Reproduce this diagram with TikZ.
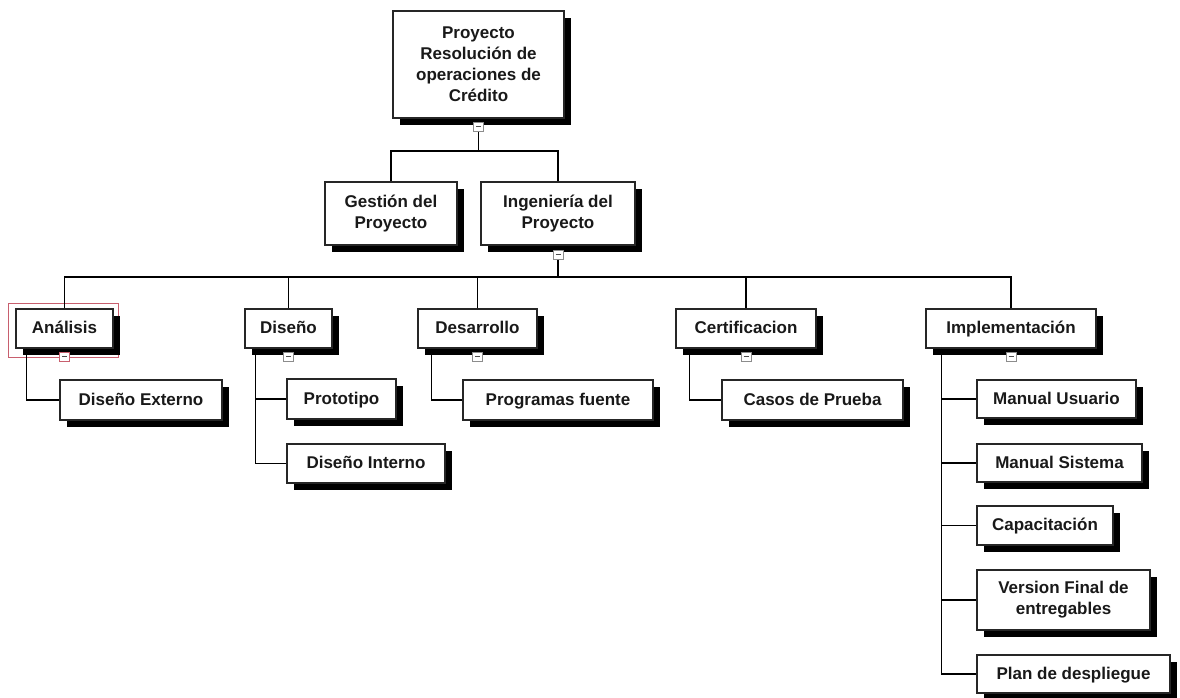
\documentclass[tikz,border=0pt]{standalone}
\usepackage{fontspec}
\setmainfont{Liberation Sans}
\usetikzlibrary{shadows}
\definecolor{hlred}{RGB}{200,95,110}
\tikzset{
  wbs/.style={draw=black!85, line width=1.2pt, fill=white, inner sep=0pt,
    align=center, text=black!90,
    font=\bfseries\fontsize{17}{21}\selectfont,
    general shadow={fill=black, shadow xshift=7pt, shadow yshift=-7pt}},
  oneline/.style={text height=11pt, text depth=1pt},
  link/.style={draw=black, line width=1.3pt},
  toggle/.style={draw=black!45, line width=1pt, fill=white, inner sep=0pt,
    minimum width=10pt, minimum height=9pt},
  hl/.style={draw=hlred, line width=0.9pt}
}
\newcommand{\minus}{\textcolor{black!70}{\rule[0.3pt]{5pt}{1.6pt}}}
\begin{document}
\begin{tikzpicture}[x=1pt,y=-1pt]
\useasboundingbox (0,0) rectangle (1180,697);

% selection frame around the first phase
\draw[hl] (8,303) rectangle (118,357);

% root
\node[wbs, minimum width=171pt, minimum height=107pt] (root) at (478.5,64.5)
  {Proyecto\\Resolución de\\operaciones de\\Crédito};

% first level
\node[wbs, minimum width=132pt, minimum height=63pt] (gest) at (391,213.5)
  {Gestión del\\Proyecto};
\node[wbs, minimum width=154pt, minimum height=63pt] (ing) at (558,213.5)
  {Ingeniería del\\Proyecto};

% phases
\node[wbs, oneline, minimum width=97pt,  minimum height=39pt] (anal) at (64.5,328.5) {Análisis};
\node[wbs, oneline, minimum width=87pt,  minimum height=39pt] (dis)  at (288.5,328.5) {Diseño};
\node[wbs, oneline, minimum width=119pt, minimum height=39pt] (desa) at (477.5,328.5) {Desarrollo};
\node[wbs, oneline, minimum width=140pt, minimum height=39pt] (cert) at (746,328.5) {Certificacion};
\node[wbs, oneline, minimum width=170pt, minimum height=39pt] (impl) at (1011,328.5) {Implementación};

% deliverables
\node[wbs, oneline, minimum width=162pt, minimum height=40pt] (dext)  at (141,400) {Diseño Externo};
\node[wbs, oneline, minimum width=109pt, minimum height=40pt] (proto) at (341.5,399) {Prototipo};
\node[wbs, oneline, minimum width=158pt, minimum height=39pt] (dint)  at (366,463.5) {Diseño Interno};
\node[wbs, oneline, minimum width=190pt, minimum height=40pt] (prog)  at (558,400) {Programas fuente};
\node[wbs, oneline, minimum width=181pt, minimum height=40pt] (casos) at (812.5,400) {Casos de Prueba};
\node[wbs, oneline, minimum width=159pt, minimum height=38pt] (mu)    at (1056.5,399) {Manual Usuario};
\node[wbs, oneline, minimum width=165pt, minimum height=38pt] (ms)    at (1059.5,463) {Manual Sistema};
\node[wbs, oneline, minimum width=136pt, minimum height=39pt] (cap)   at (1045,525.5) {Capacitación};
\node[wbs, minimum width=173pt, minimum height=60pt] (vf)    at (1063.5,600) {Version Final de\\entregables};
\node[wbs, oneline, minimum width=193pt, minimum height=38pt] (plan)  at (1073.5,674) {Plan de despliegue};

% root to first level
\coordinate (bus1) at (478.5,151);
\draw[link] (root.south) -- (bus1);
\draw[link] (gest.north) |- (bus1) -| (ing.north);

% engineering to phases
\coordinate (bus2) at (558,277);
\draw[link] (ing.south) -- (bus2);
\draw[link] (anal.north) |- (bus2) -| (impl.north);
\draw[link] (dis.north)  -- (dis.north |- bus2);
\draw[link] (desa.north) -- (desa.north |- bus2);
\draw[link] (cert.north) -- (cert.north |- bus2);

% phases to deliverables
\coordinate (ta) at ([xshift=11pt]anal.south west);
\draw[link] (ta) |- (dext.west);

\coordinate (td) at ([xshift=11pt]dis.south west);
\draw[link] (td) |- (dint.west);
\draw[link] (td |- proto.west) -- (proto.west);

\coordinate (tp) at ([xshift=14pt]desa.south west);
\draw[link] (tp) |- (prog.west);

\coordinate (tc) at ([xshift=14pt]cert.south west);
\draw[link] (tc) |- (casos.west);

\coordinate (ti) at ([xshift=16pt]impl.south west);
\draw[link] (ti) |- (plan.west);
\draw[link] (ti |- mu.west)  -- (mu.west);
\draw[link] (ti |- ms.west)  -- (ms.west);
\draw[link] (ti |- cap.west) -- (cap.west);
\draw[link] (ti |- vf.west)  -- (vf.west);

% collapse toggles under expanded nodes
\node[toggle] (xroot) at ([yshift=-8pt]root.south) {\minus};
\node[toggle] (xing)  at ([yshift=-9pt]ing.south) {\minus};
\node[toggle, draw=hlred] (xanal) at ([yshift=-8pt]anal.south) {\minus};
\node[toggle] (xdis)  at ([yshift=-8pt]dis.south) {\minus};
\node[toggle] (xdesa) at ([yshift=-8pt]desa.south) {\minus};
\node[toggle] (xcert) at ([yshift=-8pt]cert.south) {\minus};
\node[toggle] (ximpl) at ([yshift=-8pt]impl.south) {\minus};
\end{tikzpicture}
\end{document}
